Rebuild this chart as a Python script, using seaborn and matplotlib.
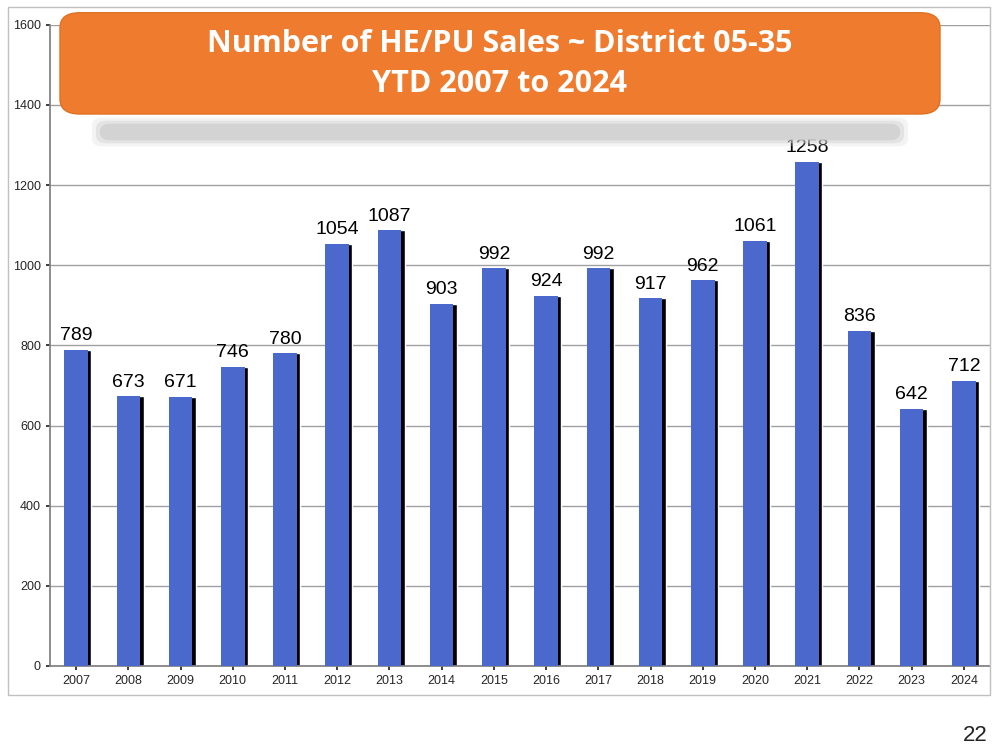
import matplotlib
matplotlib.use("Agg")
import matplotlib.pyplot as plt
import seaborn as sns
import pandas as pd
from matplotlib.patches import FancyBboxPatch, Rectangle

years = ["2007","2008","2009","2010","2011","2012","2013","2014","2015","2016","2017","2018","2019","2020","2021","2022","2023","2024"]
sales = [789,673,671,746,780,1054,1087,903,992,924,992,917,962,1061,1258,836,642,712]
yticks = [0,200,400,600,800,1000,1200,1400,1600]

sns.set_theme(style="white")
plt.rcParams['font.family'] = ['Liberation Sans', 'DejaVu Sans']
fig = plt.figure(figsize=(10, 7.5), dpi=100)
fig.patches.append(Rectangle((0.008, 0.073), 0.982, 0.918, transform=fig.transFigure,
                             fill=False, edgecolor="#c0c0c0", lw=1))
ax = fig.add_axes([0.05, 0.112, 0.94, 0.855])
df = pd.DataFrame({"year": years, "sales": sales})
ax.bar(range(len(years)), sales, width=0.45, color="black", zorder=2,
       transform=ax.transData + matplotlib.transforms.ScaledTranslation(0.035, 0.0, fig.dpi_scale_trans))
sns.barplot(data=df, x="year", y="sales", color="#4b68cc", saturation=1, width=0.45, ax=ax,
            zorder=3, edgecolor="none", linewidth=0)
for i, v in enumerate(sales):
    ax.text(i, v + 14, str(v), ha="center", va="bottom", fontsize=14, color="black", zorder=4)
ax.set_ylim(0, 1600)
ax.set_xlim(-0.5, len(years) - 0.5)
ax.set_yticks(yticks)
ax.yaxis.grid(True, color="#a0a0a0", lw=1)
ax.set_axisbelow(True)
ax.tick_params(axis="both", labelsize=9, length=3, left=True, bottom=True)
ax.set_xlabel(""); ax.set_ylabel("")
for s in ["top", "right"]:
    ax.spines[s].set_visible(False)
for s in ["left", "bottom"]:
    ax.spines[s].set_color("#808080")

box = FancyBboxPatch((0.06, 0.848), 0.88, 0.135, boxstyle="round,pad=0,rounding_size=0.02",
                     transform=fig.transFigure, facecolor="#ef7b2f", edgecolor="#e07020", zorder=10)
fig.patches.append(box)
for a, pad in [(0.25, 0.008), (0.45, 0.004), (0.8, 0.0)]:
    fig.patches.append(FancyBboxPatch((0.10 - pad, 0.813 - pad), 0.80 + 2 * pad, 0.022 + 2 * pad,
                       boxstyle="round,pad=0,rounding_size=0.01", transform=fig.transFigure,
                       facecolor="#d0d0d0", edgecolor="none", alpha=a, zorder=9))
fig.text(0.5, 0.915, "Number of HE/PU Sales ~ District 05-35\nYTD 2007 to 2024", ha="center", va="center",
         fontsize=22, fontweight="bold", color="white", linespacing=1.45, zorder=11, family=["Open Sans", "DejaVu Sans"])
fig.text(0.975, 0.005, "22", ha="center", va="bottom", fontsize=16, color="#222222")
fig.savefig("out.png", dpi=100)
